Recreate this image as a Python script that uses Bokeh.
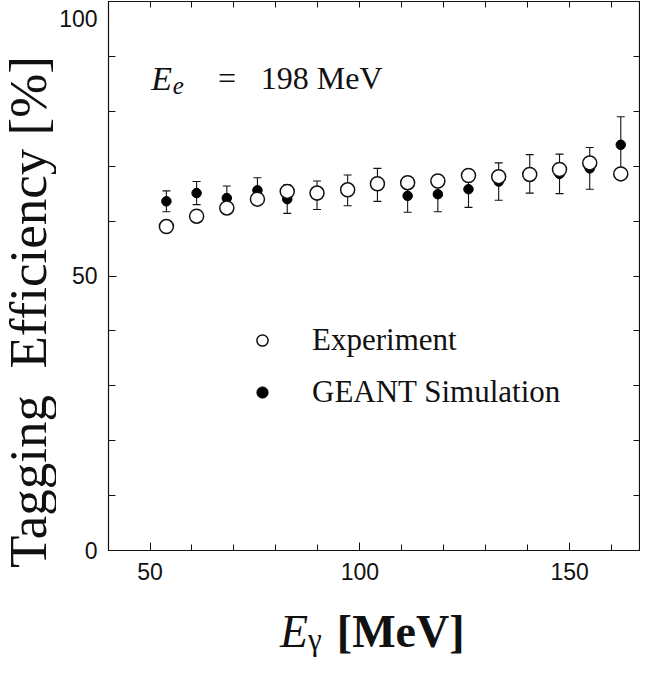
from bokeh.plotting import figure
from bokeh.models import (FixedTicker, LinearAxis, Label, Legend, LegendItem,
                          ColumnDataSource, Range1d, Div)
from bokeh.layouts import column, row
from bokeh.embed import file_html
from bokeh.resources import INLINE

# ---- data ----
e_gamma = [53.9, 61.1, 68.3, 75.6, 82.7, 89.8, 97.1, 104.2, 111.4, 118.6,
           125.9, 133.1, 140.5, 147.6, 154.8, 162.2]
experiment = [59.0, 60.9, 62.4, 64.0, 65.4, 65.1, 65.7, 66.8, 67.0, 67.3,
              68.3, 68.1, 68.5, 69.4, 70.6, 68.6]
simulation = [63.6, 65.1, 64.2, 65.6, 64.0, 64.7, 65.6, 66.6, 64.6, 64.9,
              65.8, 67.2, 68.6, 68.6, 69.6, 73.9]
sim_error = [1.9, 2.1, 2.2, 2.3, 2.6, 2.6, 2.8, 3.0, 3.0, 3.2,
             3.3, 3.4, 3.5, 3.6, 3.8, 5.1]
x_ticks = [50, 100, 150]
x_minor = [40, 50, 60, 70, 80, 90, 100, 110, 120, 130, 140, 150, 160]
y_ticks = [0, 50, 100]
y_tick_labels = {100: "\n100"}
y_minor = [10, 20, 30, 40, 50, 60, 70, 80, 90, 100]

SERIF = "Liberation Serif"
SANS = "Liberation Sans"
INK = "#111111"

src = ColumnDataSource(dict(
    x=e_gamma, exp=experiment, sim=simulation,
    lo=[s - e for s, e in zip(simulation, sim_error)],
    hi=[s + e for s, e in zip(simulation, sim_error)],
))

p = figure(width=584, height=592, x_range=Range1d(40.1, 166.9),
           y_range=Range1d(0, 100),
           output_backend="svg", toolbar_location=None,
           min_border_left=50, min_border_right=0, min_border_top=1,
           min_border_bottom=42)
p.grid.visible = False
p.outline_line_color = INK
p.outline_line_width = 1.2
p.background_fill_color = "white"
p.border_fill_color = "white"


def style_axis(ax, ticks, minor):
    ax.ticker = FixedTicker(ticks=ticks, minor_ticks=minor)
    ax.major_tick_in = 8
    ax.major_tick_out = 0
    ax.minor_tick_in = 6
    ax.minor_tick_out = 0
    ax.axis_line_color = INK
    ax.major_tick_line_color = INK
    ax.minor_tick_line_color = INK
    ax.major_label_text_font = SANS
    ax.major_label_text_color = INK
    ax.major_label_text_font_size = "23px"


style_axis(p.xaxis[0], x_ticks, x_minor)
p.xaxis[0].major_label_standoff = 12
style_axis(p.yaxis[0], y_ticks, y_minor)
p.yaxis[0].minor_tick_in = 7
p.yaxis[0].major_label_standoff = 11
p.yaxis[0].major_label_overrides = y_tick_labels
p.yaxis[0].major_label_text_line_height = 0.22

# ticks only on the top and right edges
top = LinearAxis()
style_axis(top, [], x_minor)
p.add_layout(top, "above")
right = LinearAxis()
style_axis(right, [], y_minor)
right.minor_tick_in = 7
p.add_layout(right, "right")

# error bars of the simulation
p.segment(x0="x", y0="lo", x1="x", y1="hi", source=src, line_color=INK, line_width=1.1)
p.scatter("x", "lo", marker="dash", size=8, line_color=INK, line_width=1.1, source=src)
p.scatter("x", "hi", marker="dash", size=8, line_color=INK, line_width=1.1, source=src)

sim_r = p.scatter("x", "sim", size=9.5, fill_color="black", line_color="black", source=src)
exp_r = p.scatter("x", "exp", size=14, fill_color="white", line_color=INK,
                  line_width=1.5, source=src)

legend = Legend(items=[LegendItem(label="Experiment", renderers=[exp_r]),
                       LegendItem(label="GEANT Simulation", renderers=[sim_r])],
                location=(140, 140), border_line_color=None, background_fill_alpha=0,
                padding=0, margin=0, glyph_width=28, glyph_height=36,
                label_height=36, label_standoff=36, spacing=16,
                label_text_font=SERIF, label_text_font_size="31px",
                label_text_color=INK)
p.add_layout(legend)

# E_e = 198 MeV
p.add_layout(Label(x=50.3, y=86.0, text="E", text_font=SERIF, text_font_style="italic",
                   text_font_size="34px", text_baseline="alphabetic", text_color=INK))
p.add_layout(Label(x=55.4, y=84.7, text="e", text_font=SERIF, text_font_style="italic",
                   text_font_size="25px", text_baseline="alphabetic", text_color=INK))
p.add_layout(Label(x=66.2, y=86.0, text="=", text_font=SERIF,
                   text_font_size="32px", text_baseline="alphabetic", text_color=INK))
p.add_layout(Label(x=76.4, y=86.0, text="198 MeV", text_font=SERIF,
                   text_font_size="32px", text_baseline="alphabetic", text_color=INK))

# axis titles, set as real text beside and under the plot
ytitle = Div(
    text=('<div style="position:relative;width:56px;height:657px;overflow:hidden;">'
          '<div style="position:absolute;left:28px;top:312px;'
          'transform:translate(-50%,-50%) rotate(-90deg);white-space:nowrap;'
          'font-family:\'Liberation Serif\';font-size:53px;line-height:53px;color:#111;">'
          'Tagging&nbsp; Efficiency [%]</div></div>'),
    width=56, height=657, margin=0)

xtitle = Div(
    text=('<div style="position:relative;width:584px;height:65px;overflow:hidden;">'
          '<span style="position:absolute;left:224px;top:17px;line-height:46px;'
          'white-space:nowrap;color:#111;font-family:\'Liberation Serif\';font-size:46px;">'
          '<i>E</i><span style="font-size:31px;position:relative;top:3px;">γ</span>'
          '<b style="margin-left:15px;">[MeV]</b></span></div>'),
    width=584, height=65, margin=0)

layout = row(ytitle, column(p, xtitle, spacing=0), spacing=0)

open("out.html", "w").write(file_html(layout, INLINE))
